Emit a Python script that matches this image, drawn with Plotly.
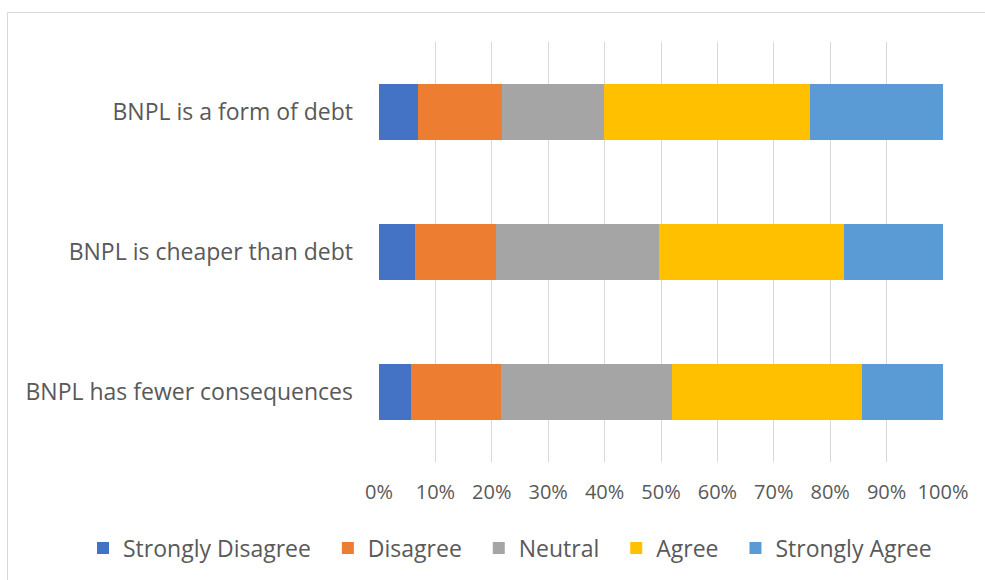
import plotly.graph_objects as go

# Survey statements and the share of responses in each agreement level (%)
statements = [
    "BNPL is a form of debt",
    "BNPL is cheaper than debt",
    "BNPL has fewer consequences",
]
strongly_disagree = [7.0, 6.4, 5.6]
disagree = [14.8, 14.3, 16.1]
neutral = [18.1, 29.0, 30.2]
agree = [36.6, 32.7, 33.7]
strongly_agree = [23.5, 17.6, 14.4]

levels = ["Strongly Disagree", "Disagree", "Neutral", "Agree", "Strongly Agree"]
series = [strongly_disagree, disagree, neutral, agree, strongly_agree]
colors = ["#4472C4", "#ED7D31", "#A5A5A5", "#FFC000", "#5B9BD5"]

tick_vals = [0, 10, 20, 30, 40, 50, 60, 70, 80, 90, 100]
tick_text = [f"{v}%" for v in tick_vals]

font_family = "'Open Sans', 'Noto Sans', sans-serif"
text_color = "#595959"

# a little extra room after each legend entry
entry_pad = "\u00a0\u00a0"

fig = go.Figure()
for name, vals, col in zip(levels, series, colors):
    fig.add_trace(go.Bar(
        name=name + entry_pad,
        y=statements,
        x=vals,
        orientation="h",
        marker=dict(color=col, line=dict(width=0)),
    ))

# Plot-area geometry in pixels
W, H = 985, 580
L, R, T, B = 379, 42, 42, 118
pw, ph = W - L - R, H - T - B


def px_x(px):
    return (px - L) / pw


def px_y(py):
    return (H - B - py) / ph


border = dict(color="#D9D9D9", width=1)

fig.update_layout(
    width=W,
    height=H,
    barmode="stack",
    bargap=0.607,
    margin=dict(l=L, r=R, t=T, b=B, autoexpand=False),
    paper_bgcolor="white",
    plot_bgcolor="white",
    font=dict(family=font_family, size=23, color=text_color),
    xaxis=dict(
        range=[0, 100],
        tickvals=tick_vals,
        ticktext=tick_text,
        showgrid=True,
        gridcolor="#D9D9D9",
        gridwidth=1,
        zeroline=False,
        showline=False,
        ticks="",
        ticklabelstandoff=16,
        tickfont=dict(size=20, color=text_color),
    ),
    yaxis=dict(
        categoryorder="array",
        categoryarray=statements[::-1],
        showgrid=False,
        zeroline=False,
        showline=False,
        ticks="",
        ticklabelstandoff=25,
        tickfont=dict(size=23, color=text_color),
    ),
    legend=dict(
        orientation="h",
        x=px_x(83),
        xanchor="left",
        y=px_y(548),
        yanchor="middle",
        bgcolor="rgba(0,0,0,0)",
        font=dict(size=23, color=text_color),
        traceorder="normal",
    ),
    shapes=[
        # chart-area frame: left and top edges
        dict(type="line", xref="paper", yref="paper",
             x0=px_x(7.5), y0=px_y(600), x1=px_x(7.5), y1=px_y(12.5), line=border),
        dict(type="line", xref="paper", yref="paper",
             x0=px_x(7.5), y0=px_y(12.5), x1=px_x(1000), y1=px_y(12.5), line=border),
    ],
)

fig.write_html("out.html")
